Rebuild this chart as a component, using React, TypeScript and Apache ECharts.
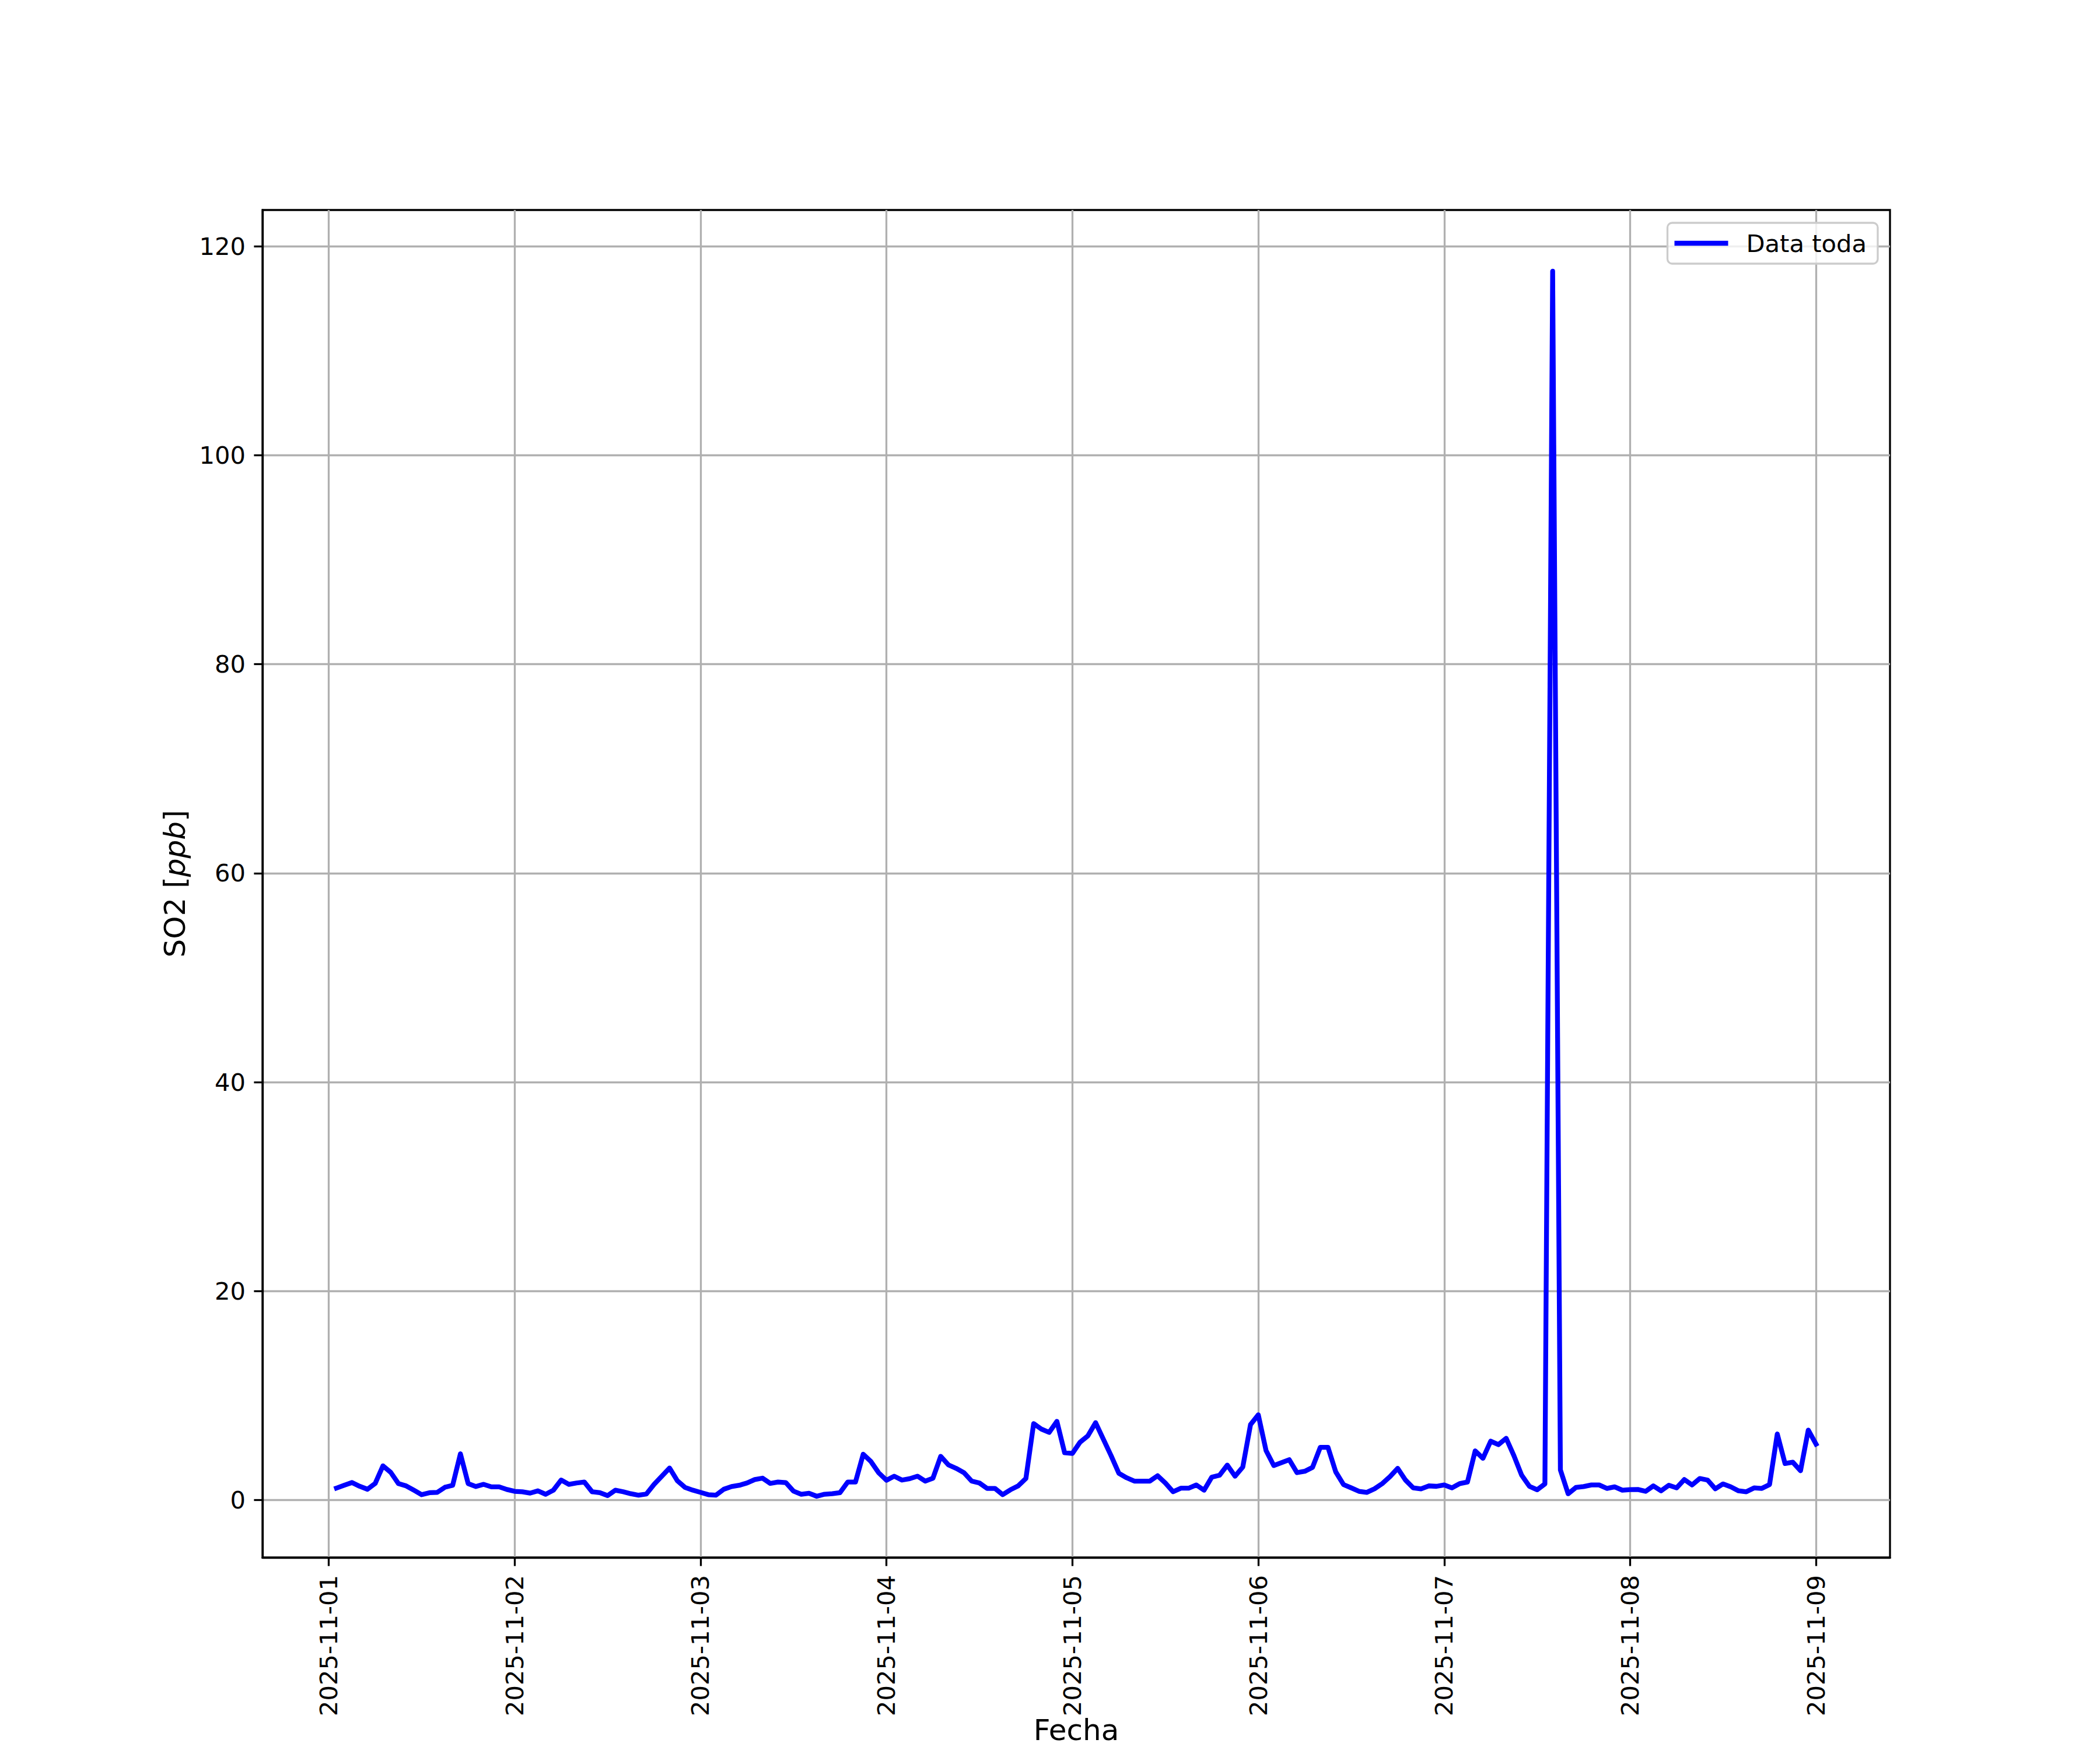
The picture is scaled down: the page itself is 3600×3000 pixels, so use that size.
import React, { useEffect, useRef } from "react";
import * as echarts from "echarts";

// Hourly SO2 values (ppb), 2025-11-01 01:00 .. 2025-11-09 00:00, one row per day
const DAY1 = [1.15, 1.42, 1.68, 1.32, 1.04, 1.60, 3.28, 2.66, 1.58, 1.36, 0.95, 0.52, 0.71, 0.74, 1.23, 1.42, 4.43, 1.58, 1.30, 1.51, 1.27, 1.27, 1.02, 0.84];
const DAY2 = [0.80, 0.67, 0.89, 0.56, 0.95, 1.92, 1.51, 1.64, 1.73, 0.80, 0.71, 0.43, 0.95, 0.80, 0.61, 0.47, 0.58, 1.51, 2.29, 3.07, 1.86, 1.21, 0.95, 0.74];
const DAY3 = [0.52, 0.48, 1.04, 1.30, 1.42, 1.64, 1.97, 2.10, 1.60, 1.73, 1.68, 0.86, 0.56, 0.65, 0.37, 0.56, 0.61, 0.71, 1.73, 1.73, 4.39, 3.69, 2.61, 1.90];
const DAY4 = [2.29, 1.92, 2.05, 2.29, 1.82, 2.10, 4.19, 3.37, 3.04, 2.63, 1.82, 1.64, 1.12, 1.12, 0.52, 0.99, 1.36, 2.07, 7.32, 6.80, 6.48, 7.54, 4.53, 4.47];
const DAY5 = [5.55, 6.15, 7.41, 5.83, 4.25, 2.57, 2.14, 1.82, 1.82, 1.82, 2.33, 1.64, 0.80, 1.14, 1.14, 1.45, 0.95, 2.20, 2.38, 3.35, 2.29, 3.17, 7.23, 8.16];
const DAY6 = [4.75, 3.31, 3.59, 3.87, 2.63, 2.76, 3.13, 5.05, 5.05, 2.70, 1.49, 1.17, 0.84, 0.74, 1.08, 1.58, 2.25, 3.04, 1.92, 1.17, 1.08, 1.36, 1.32, 1.45];
const DAY7 = [1.17, 1.58, 1.73, 4.71, 4.00, 5.64, 5.31, 5.92, 4.25, 2.38, 1.32, 0.99, 1.55, 117.6, 2.89, 0.61, 1.21, 1.30, 1.45, 1.45, 1.12, 1.27, 0.95, 1.00];
const DAY8 = [1.02, 0.84, 1.36, 0.89, 1.42, 1.17, 1.97, 1.45, 2.07, 1.92, 1.08, 1.55, 1.27, 0.89, 0.80, 1.17, 1.12, 1.49, 6.33, 3.50, 3.63, 2.81, 6.70, 5.36];

const DATE_LABELS = ["2025-11-01", "2025-11-02", "2025-11-03", "2025-11-04", "2025-11-05", "2025-11-06", "2025-11-07", "2025-11-08", "2025-11-09"];
const Y_TICKS = [0, 20, 40, 60, 80, 100, 120];
const SERIES_NAME = "Data toda";

const FONT = "DejaVu Sans";

export default function App() {
  const ref = useRef<HTMLDivElement>(null);
  useEffect(() => {
    document.body.style.margin = "0";
    if (!ref.current) return;
    const chart = echarts.init(ref.current, null, { renderer: "svg" });
    const values = [...DAY1, ...DAY2, ...DAY3, ...DAY4, ...DAY5, ...DAY6, ...DAY7, ...DAY8];
    // x = hours since 2025-11-01 00:00; first reading at 01:00
    const data = values.map((v, i) => [i + 1, v]);
    const xs = data.map((d) => d[0]);
    const xMin0 = Math.min(...xs), xMax0 = Math.max(...xs);
    const yMin0 = Math.min(...values), yMax0 = Math.max(...values);
    const xPad = (xMax0 - xMin0) * 0.05;
    const yPad = (yMax0 - yMin0) * 0.05;
    const xTicks = DATE_LABELS.map((_, i) => i * 24);

    chart.setOption({
      animation: false,
      backgroundColor: "#ffffff",
      textStyle: { fontFamily: FONT },
      grid: {
        left: 450,
        top: 360,
        width: 2790,
        height: 2310,
        show: true,
        borderColor: "#000000",
        borderWidth: 3.3,
        backgroundColor: "transparent",
        containLabel: false,
        outerBoundsMode: "none",
      },
      legend: {
        right: 381,
        top: 382,
        orient: "vertical",
        padding: [14, 19, 14, 12],
        backgroundColor: "rgba(255,255,255,0.8)",
        borderColor: "#cccccc",
        borderWidth: 3.3,
        borderRadius: 8,
        itemWidth: 92,
        itemHeight: 8.3,
        textStyle: { fontFamily: FONT, fontSize: 41.67, color: "#000000", padding: [0, 0, 0, 26] },
        data: [{ name: SERIES_NAME, icon: "rect", itemStyle: { color: "#0000ff" } }],
      },
      xAxis: {
        type: "value",
        min: xMin0 - xPad,
        max: xMax0 + xPad,
        name: "Fecha",
        nameLocation: "middle",
        nameGap: 271,
        nameMoveOverlap: false,
        nameTextStyle: { fontFamily: FONT, fontSize: 50, lineHeight: 50, color: "#000000", verticalAlign: "top" },
        axisLine: { show: true, onZero: false, lineStyle: { color: "#000000", width: 3.3 } },
        axisTick: { show: true, length: 14.6, lineStyle: { color: "#000000", width: 3.3 }, customValues: xTicks },
        axisLabel: {
          customValues: xTicks,
          rotate: 90,
          margin: 30,
          fontFamily: FONT,
          fontSize: 41.67,
          color: "#000000",
          formatter: (v: number) => DATE_LABELS[Math.round(v / 24)] ?? "",
        },
        splitLine: { show: true, lineStyle: { color: "#b0b0b0", width: 3.3 } },
      },
      yAxis: {
        type: "value",
        min: yMin0 - yPad,
        max: yMax0 + yPad,
        name: "SO2 [{i|ppb}]",
        nameLocation: "middle",
        nameGap: 125,
        nameRotate: 90,
        nameTextStyle: {
          fontFamily: FONT,
          fontSize: 50,
          color: "#000000",
          rich: { i: { fontFamily: FONT, fontSize: 50, fontStyle: "italic", color: "#000000" } },
        },
        axisLine: { show: true, onZero: false, lineStyle: { color: "#000000", width: 3.3 } },
        axisTick: { show: true, length: 14.6, lineStyle: { color: "#000000", width: 3.3 }, customValues: Y_TICKS },
        axisLabel: {
          customValues: Y_TICKS,
          margin: 29,
          fontFamily: FONT,
          fontSize: 41.67,
          color: "#000000",
        },
        splitLine: { show: true, lineStyle: { color: "#b0b0b0", width: 3.3 } },
      },
      series: [
        {
          name: SERIES_NAME,
          type: "line",
          data,
          showSymbol: false,
          symbol: "none",
          clip: true,
          lineStyle: { color: "#0000ff", width: 8.3, cap: "square", join: "round" },
          itemStyle: { color: "#0000ff" },
        },
      ],
    });
    return () => chart.dispose();
  }, []);
  return <div ref={ref} style={{ width: 3600, height: 3000 }} />;
}
